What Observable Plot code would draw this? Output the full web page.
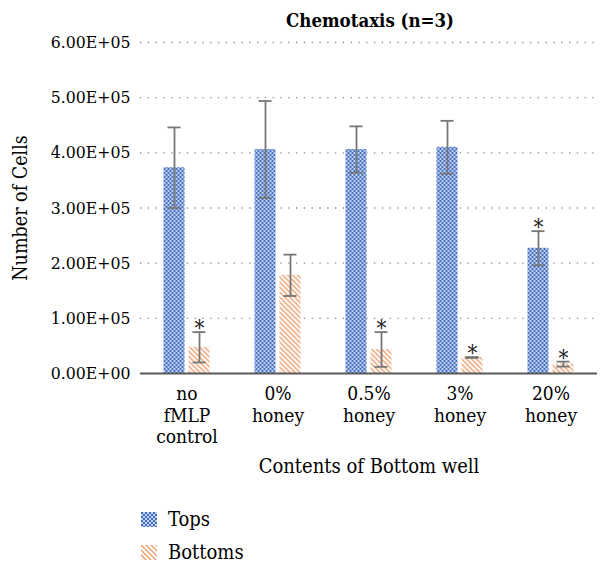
<!DOCTYPE html>
<html>
<head>
<meta charset="utf-8">
<script src="https://cdn.jsdelivr.net/npm/d3@7"></script>
<script src="https://cdn.jsdelivr.net/npm/@observablehq/plot@0.6"></script>
<style>
  html, body { margin: 0; padding: 0; background: #fff; }
  body { font-family: "DejaVu Serif Condensed", "DejaVu Serif", serif; color: #000; }
  #wrap { position: relative; width: 612px; height: 573px; overflow: hidden; }
  #title { position: absolute; left: 150px; width: 440px; top: 11px; text-align: center;
           font-weight: bold; font-size: 18.5px; line-height: 20px; }
  #chart { position: absolute; left: 0; top: 20px; }
  .leg { position: absolute; left: 141px; display: flex; align-items: center; font-size: 20px; }
  .leg svg { margin-right: 11px; }
</style>
</head>
<body>
<div id="wrap">
  <svg width="0" height="0" style="position:absolute">
    <defs>
      <pattern id="pTops" width="4" height="4" patternUnits="userSpaceOnUse">
        <rect width="4" height="4" fill="#c3d1ee"/>
        <rect x="0" y="0" width="2" height="2" fill="#4470c4"/>
        <rect x="2" y="2" width="2" height="2" fill="#4470c4"/>
      </pattern>
      <pattern id="pBottoms" width="5" height="5" patternUnits="userSpaceOnUse">
        <rect width="5" height="5" fill="#fff"/>
        <path d="M-1,-1 L6,6 M-1,4 L1,6 M4,-1 L6,1" stroke="#ee9a68" stroke-width="1.3"/>
      </pattern>
    </defs>
  </svg>
  <div id="title">Chemotaxis (n=3)</div>
  <div id="chart"></div>
  <div class="leg" style="top:507px"><svg width="16" height="15"><rect width="16" height="15" fill="url(#pTops)"/></svg><span>Tops</span></div>
  <div class="leg" style="top:540px"><svg width="16" height="15"><rect width="16" height="15" fill="url(#pBottoms)"/></svg><span>Bottoms</span></div>
</div>
<script>
const categories = ["no\nfMLP\ncontrol", "0%\nhoney", "0.5%\nhoney", "3%\nhoney", "20%\nhoney"];
const tops = [373000, 406000, 406000, 410000, 227000];
const topsErr = [73000, 88000, 42000, 48000, 31000];
const topsSig = [false, false, false, false, true];
const bottoms = [47500, 178000, 43500, 29000, 17000];
const bottomsErr = [27500, 37500, 31500, 800, 4500];
const bottomsSig = [true, false, true, true, true];
const yTicks = [0, 100000, 200000, 300000, 400000, 500000, 600000];
const gridTicks = [100000, 200000, 300000, 400000, 500000, 600000];
const yLabel = "Number of Cells";
const xLabel = "Contents of Bottom well";

const topsData = categories.map((c, i) => ({cat: c, v: tops[i], e: topsErr[i], sig: topsSig[i]}));
const botData = categories.map((c, i) => ({cat: c, v: bottoms[i], e: bottomsErr[i], sig: bottomsSig[i]}));

const barInset = 35;
const off = 12.5;
const errColor = "#777";
const fontFam = "'DejaVu Serif Condensed', 'DejaVu Serif', serif";

const fmt = v => v === 0 ? "0.00E+00" : (v / 100000).toFixed(2) + "E+05";

const chart = Plot.plot({
  width: 612,
  height: 464,
  marginLeft: 140,
  marginRight: 15,
  marginTop: 22,
  marginBottom: 111,
  style: {fontFamily: fontFam, fontSize: "17px", color: "#000", background: "transparent"},
  x: {type: "band", domain: categories, padding: 0},
  y: {domain: [0, 600000], ticks: yTicks},
  color: {type: "identity"},
  marks: [
    Plot.ruleY(gridTicks, {stroke: "#8a8a8a", strokeWidth: 1.3, strokeDasharray: "1.3 6.5"}),
    Plot.barY(topsData, {x: "cat", y: "v", fill: () => "url(#pTops)", insetLeft: barInset, insetRight: barInset, dx: -off}),
    Plot.barY(botData, {x: "cat", y: "v", fill: () => "url(#pBottoms)", insetLeft: barInset, insetRight: barInset, dx: off}),
    Plot.ruleX(topsData, {x: "cat", y1: d => d.v - d.e, y2: d => d.v + d.e, stroke: errColor, strokeWidth: 1.8, dx: -off}),
    Plot.ruleX(botData, {x: "cat", y1: d => d.v - d.e, y2: d => d.v + d.e, stroke: errColor, strokeWidth: 1.8, dx: off}),
    Plot.tickY(topsData, {x: "cat", y: d => d.v + d.e, stroke: errColor, strokeWidth: 1.8, dx: -off, insetLeft: 39, insetRight: 39}),
    Plot.tickY(topsData, {x: "cat", y: d => d.v - d.e, stroke: errColor, strokeWidth: 1.8, dx: -off, insetLeft: 39, insetRight: 39}),
    Plot.tickY(botData, {x: "cat", y: d => d.v + d.e, stroke: errColor, strokeWidth: 1.8, dx: off, insetLeft: 39, insetRight: 39}),
    Plot.tickY(botData, {x: "cat", y: d => d.v - d.e, stroke: errColor, strokeWidth: 1.8, dx: off, insetLeft: 39, insetRight: 39}),
    Plot.text(topsData.filter(d => d.sig), {x: "cat", y: d => d.v + d.e, text: () => "*", dx: -off, dy: 4, lineAnchor: "bottom", fontSize: 22, fill: "#222"}),
    Plot.text(botData.filter(d => d.sig), {x: "cat", y: d => d.v + d.e, text: () => "*", dx: off, dy: 4, lineAnchor: "bottom", fontSize: 22, fill: "#222"}),
    Plot.ruleY([0], {stroke: "#595959", strokeWidth: 2.2}),
    Plot.axisY({ticks: yTicks, tickFormat: fmt, tickSize: 0, tickPadding: 10, label: null, fontSize: 17.5}),
    Plot.axisX({tickSize: 0, tickPadding: 11, lineHeight: 1.14, label: null, fontSize: 19}),
    Plot.text([yLabel], {frameAnchor: "left", textAnchor: "middle", rotate: -90, dx: -120, fontSize: 19.5, fill: "#000"}),
    Plot.text([xLabel], {frameAnchor: "bottom", dy: 99, fontSize: 20, fill: "#000"})
  ]
});
document.getElementById("chart").appendChild(chart);
</script>
</body>
</html>
